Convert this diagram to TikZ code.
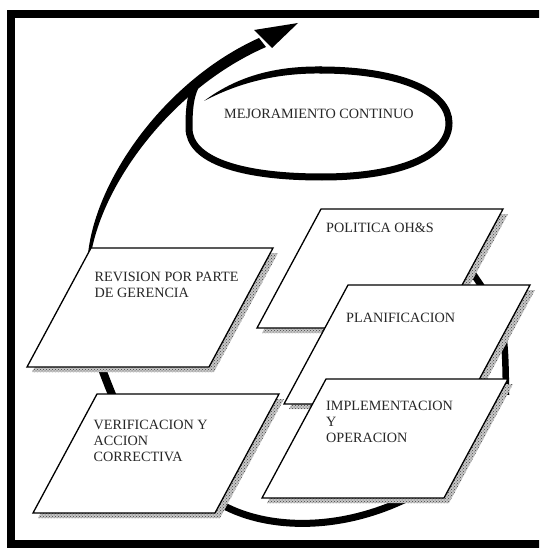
\documentclass[tikz,border=0pt]{standalone}
\usepackage{fontspec}
\setmainfont{Liberation Serif}
\usetikzlibrary{patterns}
\tikzset{
  boxshape/.style={draw=black, line width=1.3pt, fill=white, line join=miter},
  shadowbase/.style={fill=black!22},
  shadowdots/.style={pattern=crosshatch dots, pattern color=black!75},
  lbl/.style={font=\fontsize{14.2}{16}\selectfont, text=black!85, inner sep=0pt, anchor=base west, align=left},
  cyc/.style={line width=7pt, draw=black},
  framestyle/.style={line width=8pt, draw=black},
}
\newcommand\pgbox[2]{%
  \coordinate (#1) at (#2);
  \fill[shadowbase] ([shift={(5,5)}]#1) -- ++(182,0) -- ++(-64,119) -- ++(-182,0) -- cycle;
  \fill[shadowdots] ([shift={(5,5)}]#1) -- ++(182,0) -- ++(-64,119) -- ++(-182,0) -- cycle;
  \draw[boxshape] (#1) -- ++(182,0) -- ++(-64,119) -- ++(-182,0) -- cycle;
}
\begin{document}
\begin{tikzpicture}[x=1pt, y=-1pt]
\useasboundingbox (0,0) rectangle (539,548);
\clip (0,0) rectangle (539,548);
\fill[white] (0,0) rectangle (539,548);
% frame
\draw[framestyle] (11,14) rectangle (580,544);

% cycle strokes (behind boxes)
\draw[cyc] (210,497) .. controls (250,527) and (330,537) .. (410,497);
\draw[cyc, line width=8pt] (97,355) .. controls (104,375) and (110,390) .. (116,404);
\draw[cyc, line width=6.5pt] (506,395) .. controls (505,320) .. (465,262);

% main arc with arrowhead
\fill (88,254) .. controls (96,178) and (166,80) .. (259,38) -- (266,47) .. controls (172,88) and (103,183) .. (91,254) -- cycle;
\fill (254,30) -- (298,23) -- (272,48) -- cycle;

% ellipse (open loop)
\fill (204,101) .. controls (240,74) and (280,66) .. (322,66.5) -- (322,73.5) .. controls (283,73) and (244,80) .. (204,101) -- cycle;
\draw[cyc, line cap=round] (320,70) .. controls (400,70) and (449,92) .. (449,123) .. controls (449,156) and (400,177) .. (322,177) .. controls (240,177) and (189,160) .. (189,128) .. controls (189,110) and (190,98) .. (195,87);

% boxes
\pgbox{revb}{91,248}
\pgbox{verb}{97,394}
\pgbox{polb}{321,209}
\pgbox{plab}{348,285}
\pgbox{impb}{326,379}

% texts (base anchor = baseline of last line)
\node[lbl] (mej) at (224,119) {MEJORAMIENTO CONTINUO};
\node[lbl] (pol) at (326,232) {POLITICA OH\&S};
\node[lbl] (rev) at (94.5,297.5) {REVISION POR PARTE\\DE GERENCIA};
\node[lbl] (pla) at (346,322) {PLANIFICACION};
\node[lbl] (imp) at (326,442.5) {IMPLEMENTACION\\Y\\OPERACION};
\node[lbl] (ver) at (93.5,461.5) {VERIFICACION Y\\ACCION\\CORRECTIVA};
\end{tikzpicture}
\end{document}
